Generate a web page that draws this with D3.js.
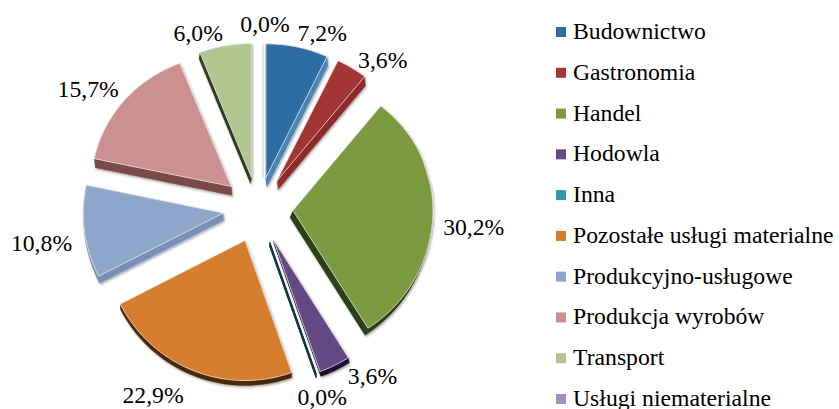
<!DOCTYPE html>
<html lang="pl">
<head>
<meta charset="utf-8">
<title>Struktura</title>
<script src="https://cdn.jsdelivr.net/npm/d3@7"></script>
<style>
html, body { margin: 0; padding: 0; background: #fff; overflow: hidden; }
text { font-family: "Liberation Serif", serif; font-size: 23.7px; fill: #000; }
</style>
</head>
<body>
<script>
var categories = ["Budownictwo", "Gastronomia", "Handel", "Hodowla", "Inna", "Pozostałe usługi materialne", "Produkcyjno-usługowe", "Produkcja wyrobów", "Transport", "Usługi niematerialne"];
var shares = [7.2, 3.6, 30.2, 3.6, 0.0, 22.9, 10.8, 15.7, 6.0, 0.0];
var faceColors = ["#2e6ca4", "#a33634", "#7c9a3f", "#654a85", "#2f96ad", "#d47e2e", "#8ea6cc", "#cc9090", "#b2c78f", "#a090bc"];
var wallColors = ["#4a86b8", "#8e2a2a", "#2f4016", "#1f1030", "#0d3a42", "#4d2a08", "#7a90b8", "#7b4a4a", "#2f3d1c", "#d4d4d4"];

var w = 839, h = 409;
var cx = 258, cy = 208, r = 140, explode = 35;

// side wall of each slice: depth and sideways lean
var wallDepth = [9, 9, 7, 5, 5, 5, 7, 9, 6, 1];
var wallLean = [1, 1, -3, 1, 0, 0, 1, 1, -1, 0];
// label shift from the outer point of each slice
var labelShift = [[25, -4], [31, 0], [41, 9], [38, 11], [6, 24], [-40, 25], [-43, 12], [-36, -6], [-27, -3], [7, -9]];

// the pie is seen in slight perspective: the far side is squeezed down
var perspective = d3.scaleLinear()
	.domain([33, 55, 101, 157, 173, 185, 240, 409])
	.range([43, 63, 106, 159, 177, 186, 240, 409]);

var svg = d3.select("body").append("svg").attr("width", w).attr("height", h);

var shadow = svg.append("defs").append("filter").attr("id", "soft")
	.attr("x", "-20%").attr("y", "-20%").attr("width", "140%").attr("height", "140%");
shadow.append("feDropShadow").attr("dx", 1).attr("dy", 1.5).attr("stdDeviation", 1.2)
	.attr("flood-color", "#000").attr("flood-opacity", 0.35);

var pie = d3.pie().value(function (d) { return d; }).sort(null);
var arcs = pie(shares);

function mid(d) { return (d.startAngle + d.endAngle) / 2; }

// the last zero slice sits a little right of the 12 o'clock line
function sliceOrigin(d, i) {
	var nudge = i === shares.length - 1 ? 5 : 0;
	return [cx + nudge + explode * Math.sin(mid(d)), cy - explode * Math.cos(mid(d))];
}

function slicePoints(d, i) {
	var o = sliceOrigin(d, i);
	var pts = [o];
	var steps = Math.max(1, Math.ceil((d.endAngle - d.startAngle) / 0.02));
	d3.range(steps + 1).forEach(function (s) {
		var a = d.startAngle + (d.endAngle - d.startAngle) * s / steps;
		pts.push([o[0] + r * Math.sin(a), o[1] - r * Math.cos(a)]);
	});
	return pts;
}

var line = d3.line()
	.x(function (p) { return p[0]; })
	.y(function (p) { return perspective(p[1]); });
function slicePath(d, i) { return line(slicePoints(d, i)) + "Z"; }

var slices = svg.selectAll("g.slice").data(arcs).enter().append("g")
	.attr("class", "slice")
	.attr("filter", function (d) { return d.value === 0 ? null : "url(#soft)"; });

// side wall, stacked copies of the slice going down
slices.each(function (d, i) {
	var g = d3.select(this);
	d3.range(wallDepth[i], 0, -1).forEach(function (k) {
		g.append("path")
			.attr("d", slicePath(d, i))
			.attr("transform", "translate(" + (wallLean[i] * k / wallDepth[i]) + "," + k + ")")
			.attr("fill", wallColors[i])
			.attr("stroke", wallColors[i])
			.attr("stroke-width", d.value === 0 ? 1.2 : 0.3);
	});
	g.append("path")
		.attr("d", slicePath(d, i))
		.attr("fill", faceColors[i])
		.attr("stroke", d.value === 0 ? "none" : "#e8e8e8")
		.attr("stroke-width", 0.8);
});

// value labels
svg.selectAll("text.value").data(arcs).enter().append("text")
	.attr("class", "value")
	.attr("text-anchor", "middle")
	.attr("dy", "0.33em")
	.attr("x", function (d, i) { return cx + (explode + r) * Math.sin(mid(d)) + labelShift[i][0]; })
	.attr("y", function (d, i) { return cy - (explode + r) * Math.cos(mid(d)) + labelShift[i][1]; })
	.text(function (d) { return d.value.toFixed(1).replace(".", ",") + "%"; });

// legend
var legendY = d3.scalePoint().domain(categories).range([32, 399]);
var legend = svg.selectAll("g.legend").data(categories).enter().append("g")
	.attr("class", "legend")
	.attr("transform", function (d) { return "translate(556," + legendY(d) + ")"; });
legend.append("rect")
	.attr("x", 0).attr("y", -5).attr("width", 10).attr("height", 10)
	.attr("fill", function (d, i) { return faceColors[i]; });
legend.append("text")
	.attr("x", 17).attr("y", 7)
	.text(function (d) { return d; });
</script>
</body>
</html>
